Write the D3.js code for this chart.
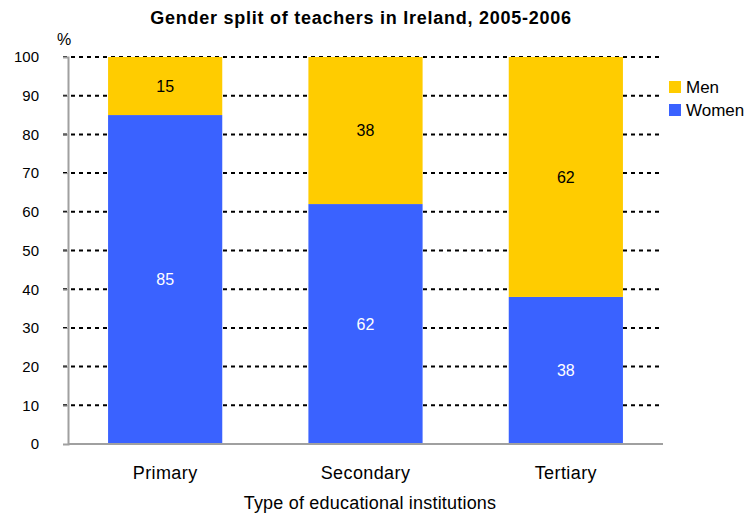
<!DOCTYPE html>
<html>
<head>
<meta charset="utf-8">
<script src="https://cdn.jsdelivr.net/npm/d3@7"></script>
<style>
  body { margin: 0; background: #fff; }
  text { font-family: "Liberation Sans", Arial, sans-serif; }
</style>
</head>
<body>
<svg id="chart" width="753" height="517"></svg>
<script>
// Data
const categories = ["Primary", "Secondary", "Tertiary"];
const women = [85, 62, 38];
const men = [15, 38, 62];
const yTicks = [0, 10, 20, 30, 40, 50, 60, 70, 80, 90, 100];
const seriesNames = ["Men", "Women"];
const seriesColors = { Men: "#ffcc00", Women: "#3a62ff" };

const svg = d3.select("#chart");
const margin = { left: 68, right: 90, top: 57, bottom: 73 };
const width = 753 - margin.left - margin.right;
const height = 517 - margin.top - margin.bottom;

const g = svg.append("g").attr("transform", `translate(${margin.left},${margin.top})`);

const x = d3.scaleBand().domain(categories).range([0, width]).paddingInner(0.43).paddingOuter(0.2);
const y = d3.scaleLinear().domain([0, 100]).range([height, 0]);

// Gridlines (dotted)
g.append("g")
  .selectAll("line")
  .data(yTicks.filter(d => d > 0))
  .join("line")
  .attr("x1", -5)
  .attr("x2", width)
  .attr("y1", d => y(d))
  .attr("y2", d => y(d))
  .attr("stroke", "#000")
  .attr("stroke-width", 2)
  .attr("stroke-dasharray", "4,4");

// Stacked bars
const rows = categories.map((c, i) => ({ cat: c, Women: women[i], Men: men[i] }));
const stack = d3.stack().keys(["Women", "Men"])(rows);

const layers = g.selectAll("g.layer")
  .data(stack)
  .join("g")
  .attr("class", "layer")
  .attr("fill", d => seriesColors[d.key]);

layers.selectAll("rect")
  .data(d => d)
  .join("rect")
  .attr("x", d => x(d.data.cat))
  .attr("width", x.bandwidth())
  .attr("y", d => y(d[1]))
  .attr("height", d => y(d[0]) - y(d[1]));

layers.selectAll("text")
  .data(d => d.map(v => Object.assign({ key: d.key }, v)))
  .join("text")
  .attr("x", d => x(d.data.cat) + x.bandwidth() / 2)
  .attr("y", d => (y(d[0]) + y(d[1])) / 2)
  .attr("dy", "0.35em")
  .attr("text-anchor", "middle")
  .attr("font-size", 16)
  .attr("fill", d => d.key === "Women" ? "#fff" : "#000")
  .text(d => d.data[d.key]);

// Axes
const yAxis = g.append("g")
  .call(d3.axisLeft(y).tickValues(yTicks).tickSize(5).tickPadding(24));
yAxis.select(".domain").attr("stroke", "#a0a0a0").attr("stroke-width", 2);
yAxis.selectAll(".tick line").attr("stroke", "#a0a0a0");
yAxis.selectAll(".tick text").attr("font-size", 15).attr("fill", "#000")
  .style("font-family", "Liberation Sans, Arial, sans-serif");

g.append("line")
  .attr("x1", 0).attr("x2", width)
  .attr("y1", height).attr("y2", height)
  .attr("stroke", "#a0a0a0").attr("stroke-width", 2);

g.append("g")
  .selectAll("text")
  .data(categories)
  .join("text")
  .attr("x", d => x(d) + x.bandwidth() / 2)
  .attr("y", height + 35)
  .attr("text-anchor", "middle")
  .attr("font-size", 18)
  .attr("letter-spacing", 0.4)
  .text(d => d);

// Titles
svg.append("text")
  .attr("x", 361).attr("y", 24)
  .attr("text-anchor", "middle")
  .attr("font-size", 18)
  .attr("font-weight", "bold")
  .attr("letter-spacing", 0.75)
  .text("Gender split of teachers in Ireland, 2005-2006");

svg.append("text")
  .attr("x", 57).attr("y", 45)
  .attr("font-size", 16)
  .text("%");

svg.append("text")
  .attr("x", 370).attr("y", 509)
  .attr("text-anchor", "middle")
  .attr("font-size", 18)
  .attr("letter-spacing", 0.2)
  .text("Type of educational institutions");

// Legend
const legend = svg.append("g").attr("transform", "translate(669,81)");
const item = legend.selectAll("g")
  .data(seriesNames)
  .join("g")
  .attr("transform", (d, i) => `translate(0,${i * 23})`);
item.append("rect").attr("width", 12).attr("height", 12).attr("fill", d => seriesColors[d]);
item.append("text").attr("x", 17).attr("y", 6).attr("dy", "0.35em").attr("font-size", 17).text(d => d);
</script>
</body>
</html>
